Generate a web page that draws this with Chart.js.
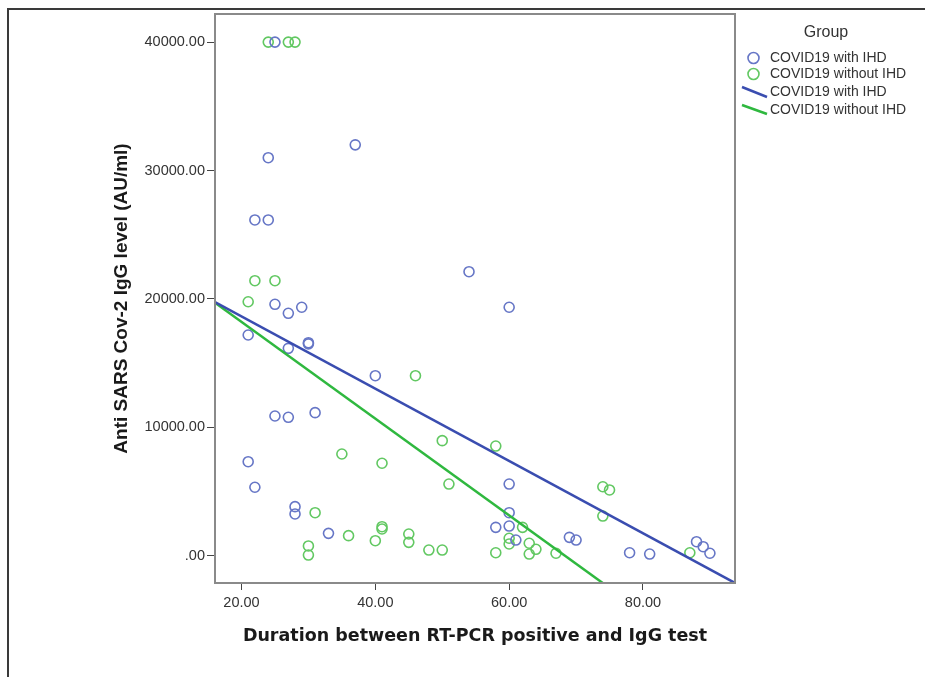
<!DOCTYPE html>
<html>
<head>
<meta charset="utf-8">
<script src="https://cdn.jsdelivr.net/npm/chart.js@4.4.0/dist/chart.umd.min.js"></script>
<style>
  html, body { margin: 0; padding: 0; background: #fff; }
  canvas { display: block; }
</style>
</head>
<body>
<canvas id="myChart" width="925" height="677"></canvas>
<script>
// with IHD
var ihdX = [25, 24, 37, 22, 24, 25, 27, 29, 21, 27, 30, 30, 40, 54, 60, 25, 27, 31, 21, 22, 28, 28, 33, 60, 60, 58, 60, 61, 69, 70, 78, 81, 88, 89, 90];
var ihdY = [40000, 31000, 32000, 26150, 26150, 19580, 18880, 19350, 17190, 16150, 16590, 16500, 14020, 22120, 19350, 10880, 10780, 11140, 7320, 5330, 3820, 3250, 1740, 5580, 3350, 2210, 2310, 1220, 1430, 1220, 230, 130, 1090, 700, 190];
// without IHD
var noX = [24, 27, 28, 22, 25, 21, 46, 35, 41, 50, 51, 31, 36, 41, 41, 40, 45, 45, 48, 50, 30, 30, 58, 74, 75, 74, 62, 60, 60, 63, 64, 63, 58, 67, 87];
var noY = [40000, 40000, 40000, 21420, 21420, 19780, 14020, 7920, 7200, 8960, 5580, 3350, 1560, 2260, 2080, 1170, 1690, 1040, 440, 440, 760, 50, 8540, 5370, 5120, 3090, 2210, 1360, 910, 970, 500, 130, 230, 190, 230];
// fit lines (end points)
var fitIhdX = [16.04, 93.75];
var fitIhdY = [19760, -2126];
var fitNoX = [16.04, 73.98];
var fitNoY = [19700, -2126];

var xTicks = [20, 40, 60, 80];
var yTicks = [0, 10000, 20000, 30000, 40000];
var groupNames = ["COVID19 with IHD", "COVID19 without IHD"];

function pts(xs, ys) {
    var out = [];
    for (var i in xs) out.push({x: xs[i], y: ys[i]});
    return out;
}

var BLUE_PT = "#6676c6", GREEN_PT = "#62c862";
var BLUE_LN = "#3a4db0", GREEN_LN = "#2fb83f";

var framePlugin = {
    id: "frame",
    beforeDraw: function (chart) {
        var c = chart.ctx;
        c.save();
        c.fillStyle = "#3a3a3a";
        c.fillRect(7, 8, 2, 669);
        c.fillRect(7, 8, 918, 2);
        c.restore();
    },
    afterDraw: function (chart) {
        var c = chart.ctx, a = chart.chartArea;
        c.save();
        c.strokeStyle = "#8a8a8a";
        c.lineWidth = 2;
        c.strokeRect(a.left, a.top, a.right - a.left, a.bottom - a.top);

        // legend
        c.fillStyle = "#333";
        c.font = "16px 'Liberation Sans', Arial";
        c.textAlign = "center";
        c.textBaseline = "middle";
        c.fillText("Group", 826, 33);
        c.font = "14px 'Liberation Sans', Arial";
        c.textAlign = "left";
        var rows = [58, 74, 92, 110];
        c.lineWidth = 1.6;
        c.strokeStyle = BLUE_PT;
        c.beginPath(); c.arc(753.5, rows[0], 5.5, 0, Math.PI * 2); c.stroke();
        c.strokeStyle = GREEN_PT;
        c.beginPath(); c.arc(753.5, rows[1], 5.5, 0, Math.PI * 2); c.stroke();
        c.lineWidth = 2.5;
        c.strokeStyle = BLUE_LN;
        c.beginPath(); c.moveTo(742, 87); c.lineTo(767, 97); c.stroke();
        c.strokeStyle = GREEN_LN;
        c.beginPath(); c.moveTo(742, 105); c.lineTo(767, 114); c.stroke();
        c.fillText(groupNames[0], 770, rows[0]);
        c.fillText(groupNames[1], 770, rows[1]);
        c.fillText(groupNames[0], 770, rows[2]);
        c.fillText(groupNames[1], 770, rows[3]);
        c.restore();
    }
};

function fmt(v) {
    return v === 0 ? ".00" : v.toFixed(2);
}

new Chart("myChart", {
    type: "scatter",
    data: {
        datasets: [{
            label: groupNames[0],
            data: pts(ihdX, ihdY),
            pointRadius: 5,
            pointBorderWidth: 1.6,
            borderColor: BLUE_PT,
            backgroundColor: "rgba(0,0,0,0)",
            order: 2
        }, {
            label: groupNames[1],
            data: pts(noX, noY),
            pointRadius: 5,
            pointBorderWidth: 1.6,
            borderColor: GREEN_PT,
            backgroundColor: "rgba(0,0,0,0)",
            order: 2
        }, {
            type: "line",
            label: groupNames[0] + " fit",
            data: pts(fitIhdX, fitIhdY),
            borderColor: BLUE_LN,
            borderWidth: 2.5,
            pointRadius: 0,
            fill: false,
            order: 1
        }, {
            type: "line",
            label: groupNames[1] + " fit",
            data: pts(fitNoX, fitNoY),
            borderColor: GREEN_LN,
            borderWidth: 2.5,
            pointRadius: 0,
            fill: false,
            order: 1
        }]
    },
    options: {
        responsive: false,
        animation: false,
        layout: { padding: { top: 14, right: 190, left: 0, bottom: 0 } },
        plugins: {
            legend: { display: false },
            tooltip: { enabled: false }
        },
        scales: {
            x: {
                type: "linear",
                min: 16.04,
                max: 93.75,
                afterBuildTicks: function (s) { s.ticks = xTicks.map(function (v) { return {value: v}; }); },
                afterFit: function (s) { s.height = 94; },
                grid: { drawOnChartArea: false, tickLength: 7, tickColor: "#444" },
                border: { display: false },
                ticks: {
                    callback: fmt,
                    color: "#333",
                    padding: 4,
                    maxRotation: 0,
                    font: { family: "'Liberation Sans', Arial", size: 14.5 }
                },
                title: {
                    display: true,
                    text: "Duration between RT-PCR positive and IgG test",
                    color: "#1a1a1a",
                    padding: { top: 0, bottom: 30 },
                    font: { family: "'DejaVu Sans'", size: 17.5, weight: "bold" }
                }
            },
            y: {
                min: -2126,
                max: 42190,
                afterBuildTicks: function (s) { s.ticks = yTicks.map(function (v) { return {value: v}; }); },
                afterFit: function (s) { s.width = 215; },
                grid: { drawOnChartArea: false, tickLength: 8, tickColor: "#444" },
                border: { display: false },
                ticks: {
                    callback: fmt,
                    color: "#333",
                    padding: 2,
                    font: { family: "'Liberation Sans', Arial", size: 14.5 }
                },
                title: {
                    display: true,
                    text: "Anti SARS Cov-2 IgG level (AU/ml)",
                    color: "#1a1a1a",
                    padding: { top: 110, bottom: 0 },
                    font: { family: "'Liberation Sans', Arial", size: 19, weight: "bold" }
                }
            }
        }
    },
    plugins: [framePlugin]
});
</script>
</body>
</html>
